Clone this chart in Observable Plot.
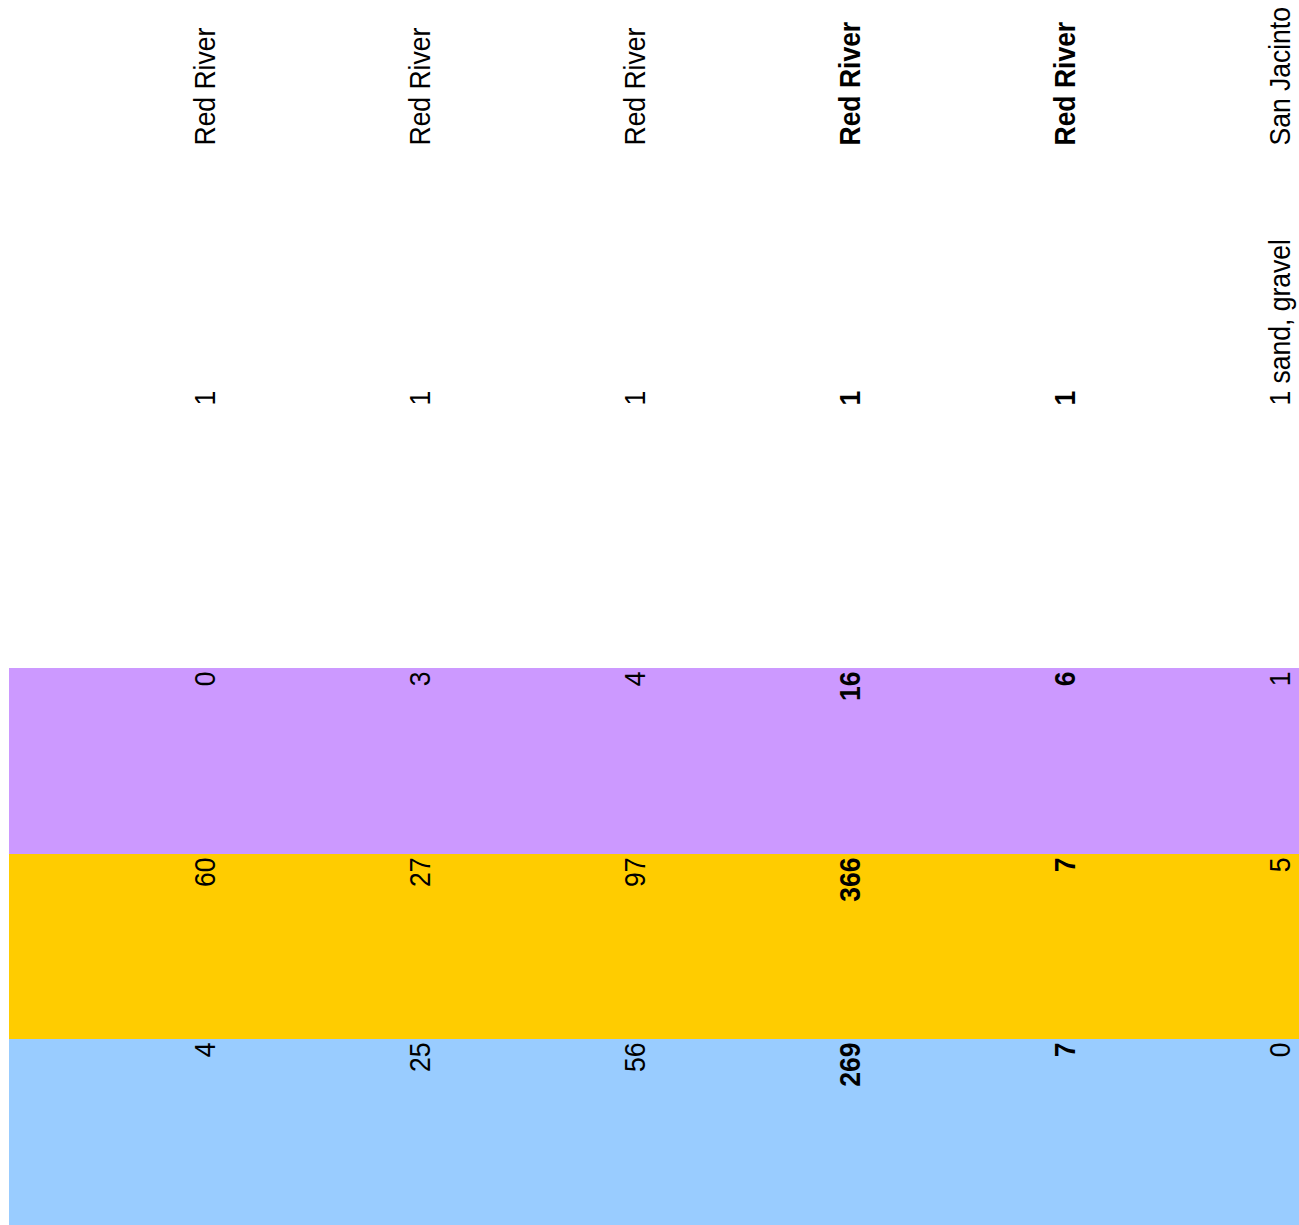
<!DOCTYPE html>
<html>
<head>
<meta charset="utf-8">
<script src="https://cdn.jsdelivr.net/npm/d3@7"></script>
<script src="https://cdn.jsdelivr.net/npm/@observablehq/plot@0.6"></script>
<style>
  html, body { margin: 0; padding: 0; background: #ffffff; }
  #chart svg { display: block; }
</style>
</head>
<body>
<div id="chart"></div>
<script>
// ---- data (table rows) ----
const rowIds = [0, 1, 2, 3, 4, 5];
const rivers = ["Red River", "Red River", "Red River", "Red River", "Red River", "San Jacinto"];
const counts = ["1", "1", "1", "1", "1", "1 sand, gravel"];
const purpleValues = [0, 3, 4, 16, 6, 1];
const yellowValues = [60, 27, 97, 366, 7, 5];
const blueValues = [4, 25, 56, 269, 7, 0];
const boldRows = [false, false, false, true, true, false];
const seriesNames = ["Series A", "Series B", "Series C"];
const seriesColors = ["#99ccff", "#ffcc00", "#cc99ff"];

// ---- layout (table column edges along the un-rotated table width) ----
const W = 1299, H = 1225;
const FONT = 26.5, STRETCH = 1.13;
const colEdges = {
  "Series A": [0, 186], "Series B": [186, 371], "Series C": [371, 557],
  num: [818, 1078], river: [1078, 1225]
};
const seriesValues = { "Series A": blueValues, "Series B": yellowValues, "Series C": purpleValues };

const cells = rowIds.flatMap(r => seriesNames.map(s => ({
  row: r, series: s, u1: colEdges[s][0], u2: colEdges[s][1],
  value: String(seriesValues[s][r]), bold: boldRows[r]
})));
const labels = rowIds.flatMap(r => [
  { row: r, u: colEdges.num[0] + 2, text: counts[r], bold: boldRows[r] },
  { row: r, u: colEdges.river[0] + 2, text: rivers[r], bold: boldRows[r] }
]);

const common = { rotate: -90, lineAnchor: "bottom", dx: 98, fontSize: FONT, fill: "#000" };

const chart = Plot.plot({
  width: W, height: H,
  marginTop: 0, marginRight: 0, marginBottom: 0, marginLeft: 0,
  style: { fontFamily: "'Liberation Sans', Arial, Helvetica, sans-serif", background: "#ffffff" },
  x: { type: "band", domain: rowIds, range: [8, W], padding: 0, axis: null },
  y: { type: "linear", domain: [0, H], range: [H, 0], axis: null },
  color: { type: "ordinal", domain: seriesNames, range: seriesColors },
  marks: [
    Plot.barY(cells, { x: "row", y1: "u1", y2: "u2", fill: "series", insetLeft: 0, insetRight: 0, shapeRendering: "crispEdges" }),
    Plot.text(cells.filter(d => !d.bold), { ...common, x: "row", y: d => d.u2 - 3, text: "value", textAnchor: "end" }),
    Plot.text(cells.filter(d => d.bold), { ...common, x: "row", y: d => d.u2 - 3, text: "value", textAnchor: "end", fontWeight: "bold" }),
    Plot.text(labels.filter(d => !d.bold), { ...common, x: "row", y: "u", text: "text", textAnchor: "start" }),
    Plot.text(labels.filter(d => d.bold), { ...common, x: "row", y: "u", text: "text", textAnchor: "start", fontWeight: "bold" })
  ]
});

// stretch glyphs slightly across the row direction, as in the reference
chart.querySelectorAll("text").forEach(t => {
  const tr = t.getAttribute("transform");
  if (tr && tr.includes("rotate")) t.setAttribute("transform", tr + ` scale(1,${STRETCH})`);
});

document.getElementById("chart").appendChild(chart);
</script>
</body>
</html>
